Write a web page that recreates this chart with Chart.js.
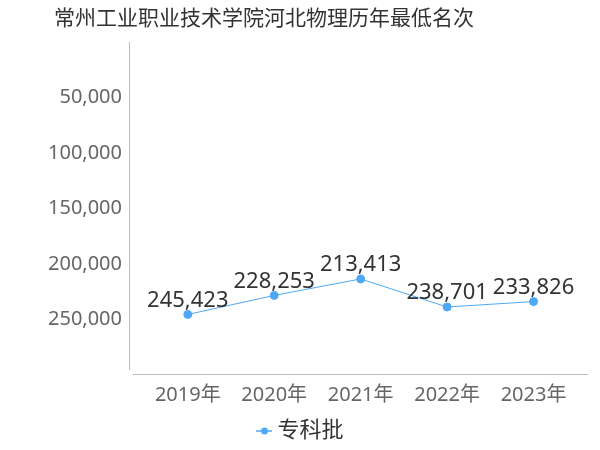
<!DOCTYPE html>
<html>
<head>
<meta charset="utf-8">
<script src="https://cdn.jsdelivr.net/npm/chart.js@4"></script>
<style>
    body { margin: 0; background: #fff; }
    #wrap { width: 600px; height: 450px; }
</style>
</head>
<body>
<div id="wrap"><canvas id="myChart"></canvas></div>
<script>
const years = ["2019年", "2020年", "2021年", "2022年", "2023年"]
const ranks = [245423, 228253, 213413, 238701, 233826]
const yTicks = [50000, 100000, 150000, 200000, 250000]
const seriesName = "专科批"

const fontFamily = '"Noto Sans", "Noto Sans CJK SC", sans-serif'
const blue = '#4fa8f5'
const axisColor = '#bbb'

// legend marker: short line with a dot
const marker = document.createElement('canvas')
marker.width = 16
marker.height = 10
const mctx = marker.getContext('2d')
mctx.strokeStyle = blue
mctx.lineWidth = 1.5
mctx.beginPath()
mctx.moveTo(0, 5)
mctx.lineTo(16, 5)
mctx.stroke()
mctx.fillStyle = blue
mctx.beginPath()
mctx.arc(8, 5, 3.5, 0, Math.PI * 2)
mctx.fill()

const valueLabels = {
    id: 'valueLabels',
    afterDatasetsDraw(chart) {
        const ctx = chart.ctx
        const meta = chart.getDatasetMeta(0)
        ctx.save()
        ctx.font = '22px ' + fontFamily
        ctx.fillStyle = '#333'
        ctx.textAlign = 'center'
        ctx.textBaseline = 'middle'
        meta.data.forEach((pt, i) => {
            ctx.fillText(ranks[i].toLocaleString('en-US'), pt.x, pt.y - 14)
        })
        ctx.restore()
    }
}

// axis lines that don't touch at the corner
const axisLines = {
    id: 'axisLines',
    beforeDatasetsDraw(chart) {
        const { ctx, chartArea } = chart
        ctx.save()
        ctx.strokeStyle = axisColor
        ctx.lineWidth = 1
        ctx.beginPath()
        ctx.moveTo(chartArea.left + 0.5, chartArea.top)
        ctx.lineTo(chartArea.left + 0.5, chartArea.bottom - 5)
        ctx.moveTo(chartArea.left + 4, chartArea.bottom - 0.5)
        ctx.lineTo(chartArea.right, chartArea.bottom - 0.5)
        ctx.stroke()
        ctx.restore()
    }
}

// title sits left of centre, legend nudged right and down
const layoutTweaks = {
    id: 'layoutTweaks',
    afterLayout(chart) {
        chart.titleBlock.left = 54
        chart.legend.left += 9
        chart.legend.right += 9
        chart.legend.top += 2
        chart.legend.bottom += 2
    }
}

const ctx = document.querySelector("#myChart").getContext("2d")

new Chart(ctx, {
    type: 'line',
    data: {
        datasets: [
            {
                label: seriesName,
                data: ranks.map((v, i) => ({ x: i, y: v })),
                borderColor: blue,
                backgroundColor: blue,
                borderWidth: 1,
                pointRadius: 4,
                pointHoverRadius: 4,
                pointBackgroundColor: blue,
                pointBorderColor: blue,
                tension: 0
            }
        ]
    },
    options: {
        responsive: true,
        maintainAspectRatio: false,
        animation: false,
        layout: { padding: { left: 0, right: 12, top: 0, bottom: 0 } },
        scales: {
            x: {
                type: 'linear',
                min: -0.68,
                max: 4.63,
                afterBuildTicks: (scale) => {
                    scale.ticks = years.map((_, i) => ({ value: i }))
                },
                grid: { display: false, drawTicks: true, tickLength: 4, tickColor: axisColor },
                border: { display: false },
                ticks: {
                    autoSkip: false,
                    maxRotation: 0,
                    color: '#666',
                    font: { size: 20, family: fontFamily },
                    padding: 4,
                    callback: (v) => years[v]
                }
            },
            y: {
                reverse: true,
                min: 0,
                max: 300000,
                afterFit: (scale) => { scale.width = 129 },
                afterBuildTicks: (scale) => {
                    scale.ticks = yTicks.map(v => ({ value: v }))
                },
                grid: { display: false, drawTicks: true, tickLength: 3, tickColor: axisColor },
                border: { display: false },
                ticks: {
                    color: '#666',
                    font: { size: 20, family: fontFamily },
                    padding: 4,
                    callback: (v) => v.toLocaleString('en-US')
                }
            }
        },
        plugins: {
            title: {
                display: true,
                align: 'start',
                text: "常州工业职业技术学院河北物理历年最低名次",
                color: '#333',
                font: { size: 21, weight: 'normal', family: fontFamily },
                padding: { top: 6, bottom: 11 }
            },
            legend: {
                display: true,
                position: 'bottom',
                labels: {
                    color: '#333',
                    font: { size: 22, family: fontFamily },
                    usePointStyle: true,
                    boxHeight: 10,
                    pointStyleWidth: 4,
                    padding: 7,
                    generateLabels: (chart) => [{
                        text: seriesName,
                        fillStyle: blue,
                        strokeStyle: blue,
                        fontColor: '#333',
                        pointStyle: marker,
                        datasetIndex: 0,
                        hidden: false,
                        lineWidth: 0
                    }]
                }
            },
            tooltip: { enabled: false }
        }
    },
    plugins: [valueLabels, axisLines, layoutTweaks]
})
</script>
</body>
</html>
